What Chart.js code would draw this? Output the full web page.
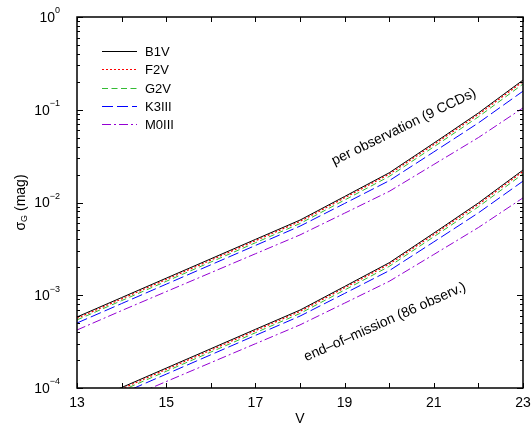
<!DOCTYPE html>
<html>
<head>
<meta charset="utf-8">
<script src="https://cdn.jsdelivr.net/npm/chart.js@4.4.0/dist/chart.umd.min.js"></script>
<style>
  html, body { margin: 0; padding: 0; background: #fff; }
  canvas { display: block; }
</style>
</head>
<body>
<canvas id="chart" width="531" height="428"></canvas>
<script>
// magnitudes where the curves were read
const mags = [13, 14, 15, 16, 17, 18, 19, 20, 21, 22, 23];

// per observation (9 CCDs)
const perObsB1V  = [5.83e-4, 9.44e-4, 1.528e-3, 2.47e-3, 4.0e-3, 6.46e-3, 1.161e-2, 2.09e-2, 4.37e-2, 9.23e-2, 0.209];
const perObsF2V  = [5.64e-4, 9.14e-4, 1.479e-3, 2.39e-3, 3.87e-3, 6.25e-3, 1.123e-2, 2.02e-2, 4.22e-2, 8.90e-2, 0.2015];
const perObsG2V  = [5.42e-4, 8.75e-4, 1.413e-3, 2.28e-3, 3.68e-3, 5.93e-3, 1.063e-2, 1.909e-2, 3.98e-2, 8.38e-2, 0.1893];
const perObsK3III = [5.02e-4, 8.13e-4, 1.316e-3, 2.128e-3, 3.44e-3, 5.56e-3, 9.76e-3, 1.717e-2, 3.51e-2, 7.21e-2, 0.1586];
const perObsM0III = [4.22e-4, 6.83e-4, 1.094e-3, 1.75e-3, 2.80e-3, 4.47e-3, 7.67e-3, 1.318e-2, 2.57e-2, 5.01e-2, 0.1047];

// end-of-mission (86 observations)
const eomB1V  = [6.25e-5, 1.012e-4, 1.638e-4, 2.65e-4, 4.29e-4, 6.92e-4, 1.244e-3, 2.24e-3, 4.68e-3, 9.89e-3, 2.24e-2];
const eomF2V  = [6.04e-5, 9.80e-5, 1.585e-4, 2.56e-4, 4.15e-4, 6.70e-4, 1.204e-3, 2.165e-3, 4.52e-3, 9.54e-3, 2.16e-2];
const eomG2V  = [5.81e-5, 9.38e-5, 1.514e-4, 2.44e-4, 3.94e-4, 6.36e-4, 1.139e-3, 2.046e-3, 4.27e-3, 8.98e-3, 2.03e-2];
const eomK3III = [5.38e-5, 8.71e-5, 1.41e-4, 2.28e-4, 3.69e-4, 5.96e-4, 1.046e-3, 1.84e-3, 3.76e-3, 7.73e-3, 1.70e-2];
const eomM0III = [4.52e-5, 7.32e-5, 1.173e-4, 1.876e-4, 3.0e-4, 4.79e-4, 8.22e-4, 1.413e-3, 2.75e-3, 5.37e-3, 1.122e-2];

const seriesNames = ["B1V", "F2V", "G2V", "K3III", "M0III"];
const xTickValues = [13, 14, 15, 16, 17, 18, 19, 20, 21, 22, 23];
const xTickLabels = ["13", "", "15", "", "17", "", "19", "", "21", "", "23"];
const yDecades = [-4, -3, -2, -1, 0];

const colors = ["#000000", "#ff0000", "#33bb33", "#0000ff", "#9400d3"];
const dashes = [[], [2, 2], [6, 3.5], [11, 4], [9, 3, 2, 3]];
const widths = [1, 1.2, 1, 1, 1];

const FONT = "'Liberation Sans', Arial, sans-serif";

function toPoints(values) {
    return mags.map((m, i) => ({ x: m, y: values[i] }));
}

const perObs = [perObsB1V, perObsF2V, perObsG2V, perObsK3III, perObsM0III];
const eom = [eomB1V, eomF2V, eomG2V, eomK3III, eomM0III];

const datasets = [];
perObs.forEach((vals, i) => {
    datasets.push({
        label: seriesNames[i], data: toPoints(vals),
        borderColor: colors[i], borderDash: dashes[i], borderWidth: widths[i],
        pointRadius: 0, tension: 0, fill: false
    });
});
eom.forEach((vals, i) => {
    datasets.push({
        label: seriesNames[i] + " (eom)", data: toPoints(vals),
        borderColor: colors[i], borderDash: dashes[i], borderWidth: widths[i],
        pointRadius: 0, tension: 0, fill: false
    });
});

// frame, ticks, labels, legend and annotations
const decorPlugin = {
    id: "decor",
    afterDatasetsDraw(chart) {
        const ctx = chart.ctx;
        const a = chart.chartArea;
        const xs = chart.scales.x, ys = chart.scales.y;
        ctx.save();
        ctx.setLineDash([]);

        // frame
        ctx.strokeStyle = "#000";
        ctx.lineWidth = 1.5;
        ctx.strokeRect(a.left, a.top, a.right - a.left, a.bottom - a.top);

        // x ticks (bottom and top, inward)
        ctx.lineWidth = 1;
        ctx.beginPath();
        xTickValues.forEach(v => {
            const px = Math.round(xs.getPixelForValue(v)) + 0.5;
            ctx.moveTo(px, a.bottom); ctx.lineTo(px, a.bottom - 5);
            ctx.moveTo(px, a.top); ctx.lineTo(px, a.top + 5);
        });
        // y ticks (left and right, inward)
        yDecades.forEach(d => {
            for (let k = 1; k <= 9; k++) {
                const val = k * Math.pow(10, d);
                if (val > 1.0001) break;
                const py = Math.round(ys.getPixelForValue(val)) + 0.5;
                const len = k === 1 ? 6 : 3;
                ctx.moveTo(a.left, py); ctx.lineTo(a.left + len, py);
                ctx.moveTo(a.right, py); ctx.lineTo(a.right - len, py);
            }
        });
        ctx.stroke();

        // x tick labels
        ctx.fillStyle = "#000";
        ctx.font = "14px " + FONT;
        ctx.textAlign = "center";
        ctx.textBaseline = "middle";
        xTickValues.forEach((v, i) => {
            if (xTickLabels[i]) ctx.fillText(xTickLabels[i], xs.getPixelForValue(v), a.bottom + 15);
        });

        // y tick labels: 10 with superscript exponent
        yDecades.forEach(d => {
            const py = ys.getPixelForValue(Math.pow(10, d));
            const exp = d === 0 ? "0" : "\u2212" + Math.abs(d);
            ctx.font = "9px " + FONT;
            const ew = ctx.measureText(exp).width;
            const right = a.left - 17;
            ctx.textAlign = "left";
            ctx.textBaseline = "middle";
            ctx.fillText(exp, right - ew, py - 6);
            ctx.font = "14px " + FONT;
            ctx.textAlign = "right";
            ctx.fillText("10", right - ew, py + 1);
        });

        // axis titles
        ctx.font = "14px " + FONT;
        ctx.textAlign = "center";
        ctx.textBaseline = "middle";
        ctx.fillText("V", (a.left + a.right) / 2, 419);

        ctx.save();
        ctx.translate(21, (a.top + a.bottom) / 2);
        ctx.rotate(-Math.PI / 2);
        ctx.font = "14px " + FONT;
        const sig = "\u03C3", sub = "G", rest = " (mag)";
        const wSig = ctx.measureText(sig).width;
        const wRest = ctx.measureText(rest).width;
        ctx.font = "9px " + FONT;
        const wSub = ctx.measureText(sub).width;
        let x0 = -(wSig + wSub + wRest) / 2;
        ctx.textAlign = "left";
        ctx.font = "14px " + FONT;
        ctx.fillText(sig, x0, 0);
        ctx.font = "9px " + FONT;
        ctx.fillText(sub, x0 + wSig, 4);
        ctx.font = "14px " + FONT;
        ctx.fillText(rest, x0 + wSig + wSub, 0);
        ctx.restore();

        // legend
        const legY = [51, 69, 88, 106, 124];
        seriesNames.forEach((name, i) => {
            ctx.beginPath();
            ctx.strokeStyle = colors[i];
            ctx.lineWidth = widths[i];
            ctx.setLineDash(dashes[i]);
            ctx.moveTo(102, legY[i] + 0.5);
            ctx.lineTo(137, legY[i] + 0.5);
            ctx.stroke();
            ctx.setLineDash([]);
            ctx.fillStyle = "#000";
            ctx.font = "13px " + FONT;
            ctx.textAlign = "left";
            ctx.textBaseline = "middle";
            ctx.fillText(name, 145, legY[i] + 1);
        });

        // curve annotations
        ctx.font = "14px " + FONT;
        ctx.textAlign = "center";
        ctx.textBaseline = "middle";
        ctx.save();
        ctx.translate(404, 127);
        ctx.rotate(-26 * Math.PI / 180);
        ctx.fillText("per observation (9 CCDs)", 0, 0);
        ctx.restore();
        ctx.save();
        ctx.translate(385, 322);
        ctx.rotate(-24 * Math.PI / 180);
        ctx.fillText("end\u2013of\u2013mission (86 observ.)", 0, 0);
        ctx.restore();

        ctx.restore();
    }
};

new Chart(document.getElementById("chart").getContext("2d"), {
    type: "line",
    data: { datasets: datasets },
    options: {
        responsive: false,
        animation: false,
        devicePixelRatio: 1,
        layout: { padding: { left: 77, right: 8, top: 17, bottom: 40 } },
        plugins: { legend: { display: false }, tooltip: { enabled: false } },
        scales: {
            x: {
                type: "linear", min: 13, max: 23,
                grid: { display: false }, border: { display: false },
                ticks: { display: false },
                afterFit: s => { s.height = 0; }
            },
            y: {
                type: "logarithmic", min: 1e-4, max: 1,
                grid: { display: false }, border: { display: false },
                ticks: { display: false },
                afterFit: s => { s.width = 0; }
            }
        }
    },
    plugins: [decorPlugin]
});
</script>
</body>
</html>
